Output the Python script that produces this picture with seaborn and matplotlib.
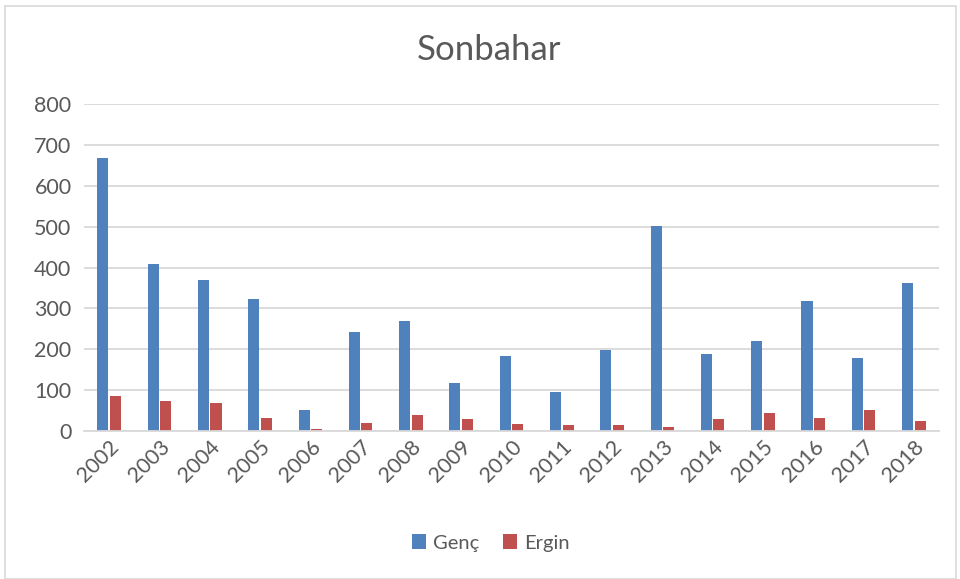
import matplotlib
matplotlib.use("Agg")
import matplotlib.pyplot as plt
import seaborn as sns
import pandas as pd
from matplotlib.patches import Rectangle

years = ["2002", "2003", "2004", "2005", "2006", "2007", "2008", "2009", "2010",
         "2011", "2012", "2013", "2014", "2015", "2016", "2017", "2018"]
genc = [669, 408, 370, 322, 51, 242, 269, 117, 184, 95, 199, 502, 189, 221, 317, 179, 363]
ergin = [85, 73, 68, 33, 4, 20, 38, 29, 16, 15, 14, 11, 29, 45, 31, 52, 24]
series = ["Genç", "Ergin"]
yticks = [0, 100, 200, 300, 400, 500, 600, 700, 800]

df = pd.DataFrame({
    "Yıl": years * 2,
    "Değer": genc + ergin,
    "Grup": [series[0]] * len(years) + [series[1]] * len(years),
})

sns.set_theme(style="white")
plt.rcParams['font.family'] = ['Lato', 'DejaVu Sans']
text_color = "#595959"

fig = plt.figure(figsize=(9.6, 5.79), dpi=100)
ax = fig.add_axes([84/960, 1 - 431/579, (939-84)/960, (431-104)/579])

sns.barplot(data=df, x="Yıl", y="Değer", hue="Grup", order=years, hue_order=series,
            palette=["#4F81BD", "#C0504D"], width=0.5, gap=0.12, ax=ax,
            saturation=1, edgecolor="none", legend=True)

ax.set_ylim(0, 800)
ax.set_xlim(-0.5, len(years) - 0.5)
ax.set_yticks(yticks)
ax.set_yticklabels([str(v) for v in yticks], fontsize=15.5, color=text_color)
ax.yaxis.grid(True, color="#D9D9D9", linewidth=1.3)
ax.set_axisbelow(True)
for s in ["top", "right", "left"]:
    ax.spines[s].set_visible(False)
ax.spines["bottom"].set_color("#D9D9D9")
ax.spines["bottom"].set_linewidth(1.3)
ax.tick_params(axis="y", length=0, pad=9)
ax.tick_params(axis="x", length=0, pad=4)
ax.set_xticks(range(len(years)))
ax.set_xticklabels(years, rotation=45, ha="right", rotation_mode="anchor",
                   fontsize=15.5, color=text_color)
ax.set_xlabel("")
ax.set_ylabel("")

fig.text(489/960, 1 - 50/579, "Sonbahar", ha="center", va="center",
         fontsize=25, color=text_color)

handles, labels = ax.get_legend_handles_labels()
ax.legend_.remove()
fig.legend(handles, labels, loc="center", bbox_to_anchor=(491/960, 1 - 543/579),
           ncol=2, frameon=False, fontsize=14.5, labelcolor=text_color,
           handlelength=0.7, handleheight=0.7, handletextpad=0.35, columnspacing=1.2)

fig.add_artist(Rectangle((5/960, 0.0), 951/960, 1 - 6/579, transform=fig.transFigure,
                         fill=False, edgecolor="#D9D9D9", linewidth=1.2))

fig.savefig("out.png", dpi=100)
